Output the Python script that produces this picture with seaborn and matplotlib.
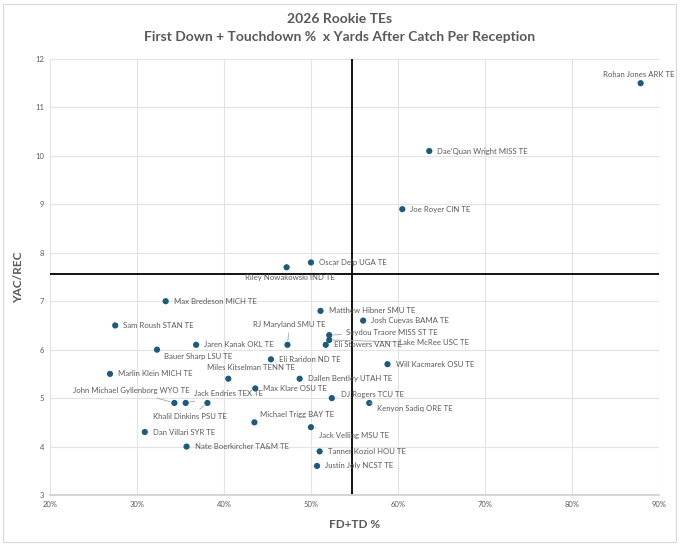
import matplotlib
matplotlib.use("Agg")
import matplotlib.pyplot as plt
import matplotlib.patches as mpatches
import seaborn as sns
import pandas as pd

sns.set_theme(style="whitegrid")
plt.rcParams['font.family'] = ['Lato', 'DejaVu Sans']

# ---- data ----
players = [
    "Rohan Jones ARK TE", "Dae'Quan Wright MISS TE", "Joe Royer CIN TE",
    "Oscar Delp UGA TE", "Riley Nowakowski IND TE", "Max Bredeson MICH TE",
    "Matthew Hibner SMU TE", "Josh Cuevas BAMA TE", "Sam Roush STAN TE",
    "RJ Maryland SMU TE", "Seydou Traore MISS ST TE", "Lake McRee USC TE",
    "Eli Stowers VAN TE", "Jaren Kanak OKL TE", "Bauer Sharp LSU TE",
    "Eli Raridon ND TE", "Will Kacmarek OSU TE", "Marlin Klein MICH TE",
    "Miles Kitselman TENN TE", "Dallen Bentley UTAH TE", "Max Klare OSU TE",
    "DJ Rogers TCU TE", "John Michael Gyllenborg WYO TE", "Jack Endries TEX TE",
    "Khalil Dinkins PSU TE", "Kenyon Sadiq ORE TE", "Michael Trigg BAY TE",
    "Dan Villari SYR TE", "Jack Velling MSU TE", "Nate Boerkircher TA&M TE",
    "Tanner Koziol HOU TE", "Justin Joly NCST TE",
]
fd_td_pct = [
    87.9, 63.6, 60.5,
    50.0, 47.2, 33.3,
    51.1, 56.0, 27.5,
    47.3, 52.1, 52.1,
    51.7, 36.8, 32.3,
    45.4, 58.8, 26.9,
    40.5, 48.7, 43.6,
    52.4, 34.3, 35.6,
    38.1, 56.7, 43.5,
    30.9, 50.0, 35.7,
    51.0, 50.7,
]
yac_rec = [
    11.5, 10.1, 8.9,
    7.8, 7.7, 7.0,
    6.8, 6.6, 6.5,
    6.1, 6.3, 6.2,
    6.1, 6.1, 6.0,
    5.8, 5.7, 5.5,
    5.4, 5.4, 5.2,
    5.0, 4.9, 4.9,
    4.9, 4.9, 4.5,
    4.3, 4.4, 4.0,
    3.9, 3.6,
]
avg_fd_td = 54.7
avg_yac = 7.56

df = pd.DataFrame({"player": players, "fd_td": fd_td_pct, "yac": yac_rec})

# label placement (pixel offsets, alignment, leader line)
label_pos = {
    "Rohan Jones ARK TE": (-2, 9, "center", False),
    "Riley Nowakowski IND TE": (3, -10, "center", False),
    "RJ Maryland SMU TE": (2, 20, "center", True),
    "Seydou Traore MISS ST TE": (17, 3, "left", True),
    "Lake McRee USC TE": (70, -3, "left", True),
    "Bauer Sharp LSU TE": (7, -7, "left", False),
    "Miles Kitselman TENN TE": (23, 11, "center", False),
    "John Michael Gyllenborg WYO TE": (-43, 12, "center", True),
    "Jack Endries TEX TE": (8, 9, "left", True),
    "Khalil Dinkins PSU TE": (-17, -14, "center", True),
    "Michael Trigg BAY TE": (6, 8, "left", False),
    "Jack Velling MSU TE": (8, -8, "left", True),
    "DJ Rogers TCU TE": (9, 4, "left", True),
    "Kenyon Sadiq ORE TE": (8, -6, "left", True),
}

text_grey = "#595959"
dot_color = "#1d5b7c"

fig = plt.figure(figsize=(6.8, 5.46), dpi=100)
ax = fig.add_axes([0.0735, 0.0934, 0.8955, 0.7986])

sns.scatterplot(data=df, x="fd_td", y="yac", ax=ax, color=dot_color,
                s=20, edgecolor="none", zorder=3)

ax.axvline(avg_fd_td, color="black", lw=1.3, zorder=2)
ax.axhline(avg_yac, color="black", lw=1.3, zorder=2)

for name, xv, yv in zip(players, fd_td_pct, yac_rec):
    dx, dy, ha, leader = label_pos.get(name, (8, 0, "left", False))
    ax.annotate(name, (xv, yv), xytext=(dx, dy), textcoords="offset pixels",
                ha=ha, va="center", fontsize=5.6, color=text_grey,
                annotation_clip=False,
                arrowprops=dict(arrowstyle="-", color="#a6a6a6", lw=0.6,
                                shrinkA=1, shrinkB=3) if leader else None)

ax.set_xlim(20, 90)
ax.set_ylim(3, 12)
ax.set_xticks(range(20, 91, 10))
ax.set_xticklabels([f"{v}%" for v in range(20, 91, 10)])
ax.set_yticks(range(3, 13))
ax.tick_params(axis="both", labelsize=5.5, colors=text_grey, length=0, pad=4)
ax.grid(True, color="#e3e3e3", lw=0.8)
for side in ["top", "right", "left"]:
    ax.spines[side].set_visible(False)
ax.spines["bottom"].set_color("#d0d0d0")
ax.set_facecolor("white")

ax.set_xlabel("FD+TD %", fontsize=8.5, fontweight="bold", color=text_grey, labelpad=8)
ax.set_ylabel("YAC/REC", fontsize=8.5, fontweight="bold", color=text_grey, labelpad=8)

fig.text(0.5, 0.965, "2026 Rookie TEs", ha="center", va="center",
         fontsize=10, fontweight="bold", color=text_grey)
fig.text(0.5, 0.932, "First Down + Touchdown %  x Yards After Catch Per Reception",
         ha="center", va="center", fontsize=10, fontweight="bold", color=text_grey)

fig.patches.append(mpatches.Rectangle((0.004, 0.008), 0.99, 0.985,
                                      transform=fig.transFigure, fill=False,
                                      edgecolor="#d9d9d9", lw=0.8))

fig.savefig("out.png", dpi=100)
